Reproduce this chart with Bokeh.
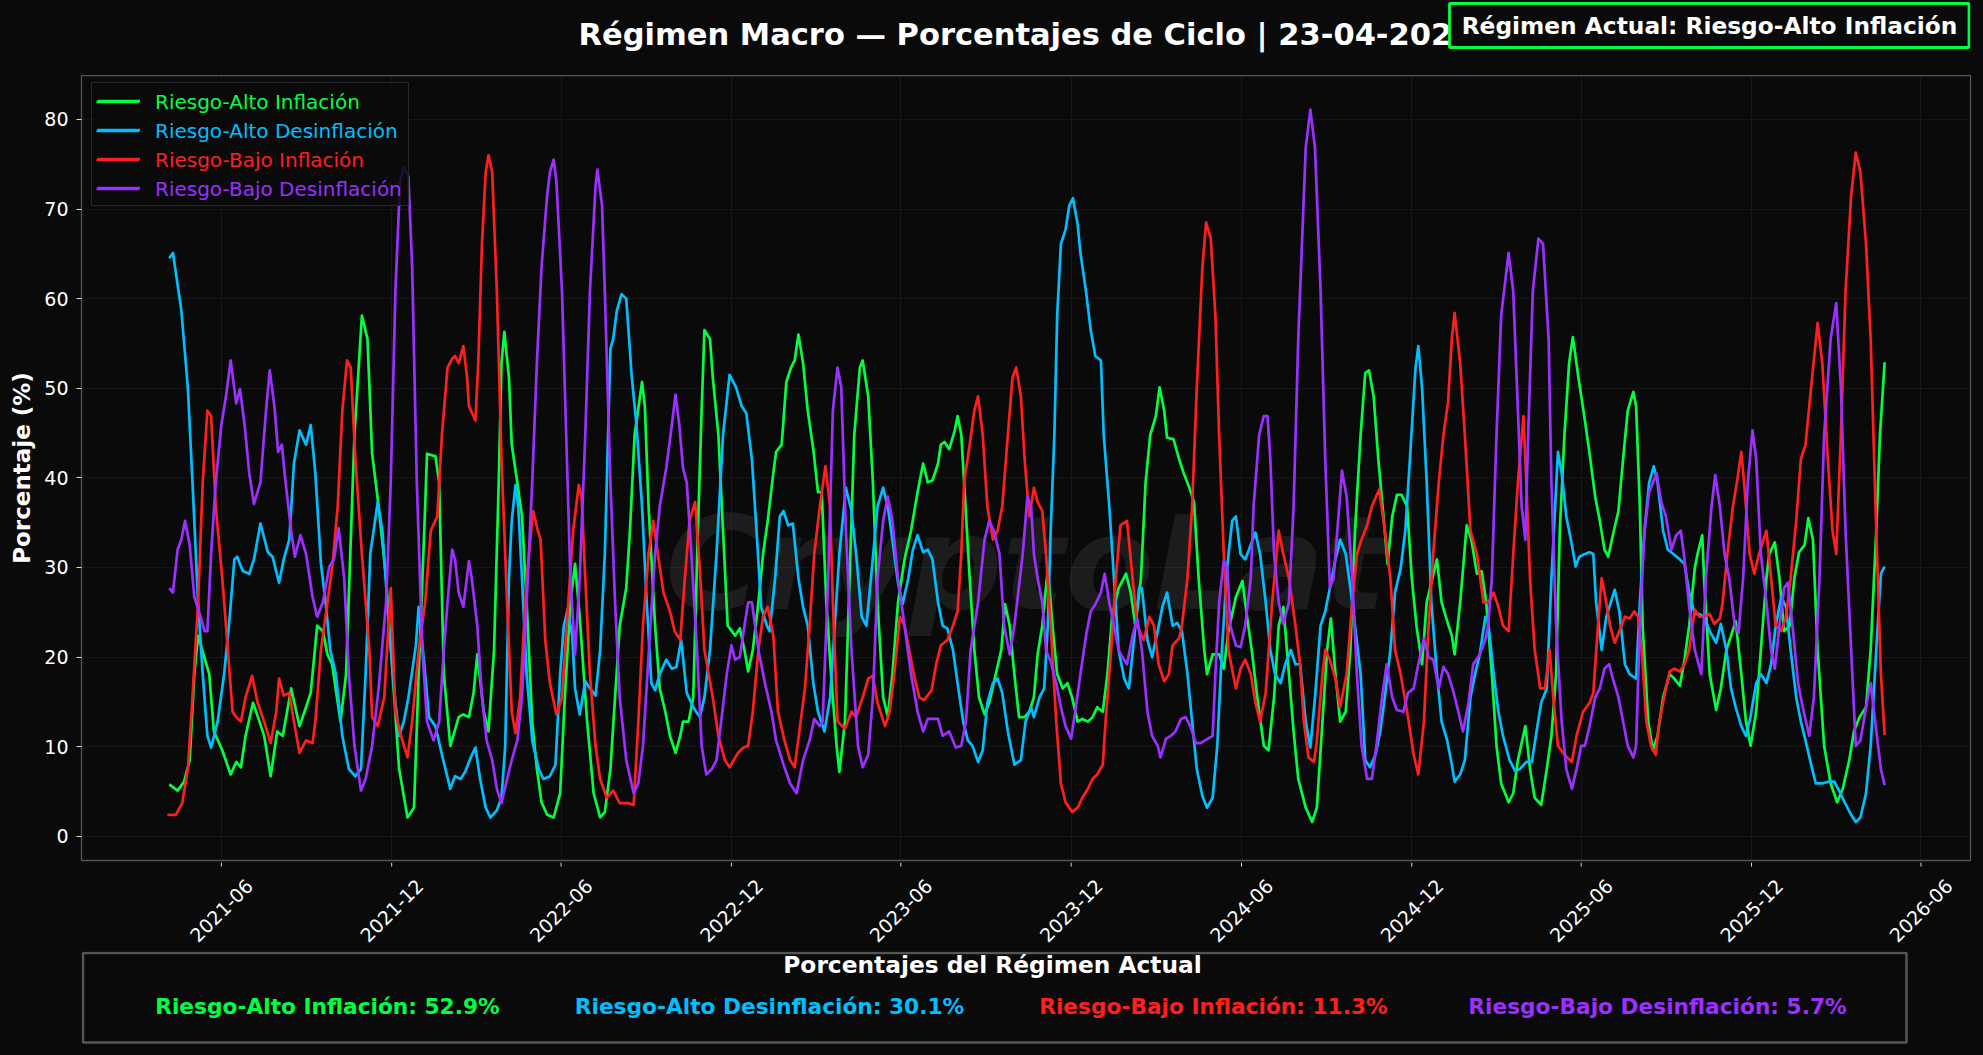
import math
import numpy as np
import pandas as pd
from bokeh.plotting import figure
from bokeh.layouts import column
from bokeh.models import Range1d, FixedTicker, Legend, LegendItem
from bokeh.core.properties import value
from bokeh.embed import file_html
from bokeh.resources import INLINE

# ---------------- data ----------------
DAY0 = "2021-04-01"  # day offsets below are counted from this date

NAMES = ["Riesgo-Alto Inflación", "Riesgo-Alto Desinflación",
         "Riesgo-Bajo Inflación", "Riesgo-Bajo Desinflación"]
COLORS = ["#00ff41", "#00bfff", "#ff1f1f", "#9b30ff"]

RAI = [(5,5.8),(14,5.1),(21,6.1),(27,8.5),(32,18.1),(36,22.4),(48,18.1),(53,11.7),(62,9.6),(71,6.9),(77,8.3),(82,7.7),(87,11.2),(95,14.9),(102,12.8),(107,11.2),(114,6.7),(121,11.7),(127,11.2),(136,16.5),(145,12.3),(152,14.4),(157,16.0),(164,23.5),(170,22.9),(175,20.3),(180,19.2),(189,12.8),(195,18.1),(204,44.8),(212,58.1),(218,55.5),(223,42.7),(230,36.8),(238,28.8),(245,18.1),(252,7.5),(261,2.1),(268,3.2),(273,18.1),(279,34.1),(282,42.7),(291,42.4),(295,39.5),(300,18.1),(307,10.1),(316,13.3),(321,13.6),(327,13.3),(332,16.0),(336,20.3),(343,13.9),(348,11.7),(354,20.8),(359,39.5),(362,52.8),(365,56.3),(370,51.2),(373,43.7),(379,39.5),(384,35.7),(389,26.1),(395,12.8),(400,7.5),(405,3.8),(411,2.4),(418,2.1),(425,4.8),(430,15.5),(436,26.1),(441,30.4),(446,24.5),(454,12.8),(461,4.8),(468,2.1),(473,2.7),(479,7.5),(484,15.5),(489,23.5),(496,27.7),(500,34.1),(505,44.8),(513,50.7),(516,48.0),(520,36.8),(527,23.5),(532,16.5),(538,13.9),(543,11.2),(549,9.3),(554,11.2),(557,12.8),(563,12.8),(568,15.5),(573,34.1),(577,47.5),(580,56.5),(586,55.5),(589,51.2),(595,44.8),(600,34.1),(605,23.5),(613,22.4),(618,23.2),(623,20.8),(627,18.4),(632,20.8),(638,26.1),(643,31.5),(648,35.2),(654,40.5),(657,42.9),(663,43.7),(668,50.7),(673,52.3),(677,53.1),(681,56.0),(686,52.8),(691,47.5),(697,43.2),(702,38.4),(706,38.4),(711,26.1),(716,18.1),(722,10.1),(725,7.2),(731,12.8),(736,28.8),(741,44.8),(747,52.3),(750,53.1),(756,49.1),(761,39.5),(766,26.1),(772,15.5),(777,13.4),(782,18.1),(788,26.1),(795,30.9),(802,34.1),(809,38.4),(815,41.6),(820,39.5),(825,39.7),(831,41.6),(834,43.7),(838,44.0),(843,43.2),(849,45.3),(852,46.9),(856,44.8),(859,39.5),(865,28.8),(870,20.8),(875,15.5),(881,13.6),(886,14.9),(893,18.1),(899,20.8),(903,25.9),(908,23.5),(913,18.1),(918,13.3),(924,13.3),(929,13.9),(934,15.5),(938,20.3),(943,23.5),(949,29.9),(954,23.5),(959,18.1),(965,16.5),(970,17.1),(975,15.5),(981,12.8),(986,13.1),(992,12.8),(997,13.3),(1002,14.4),(1008,13.9),(1013,18.1),(1018,24.5),(1025,27.7),(1033,29.3),(1038,27.2),(1043,23.5),(1049,28.8),(1054,39.5),(1059,44.8),(1065,46.9),(1069,50.1),(1074,47.5),(1077,44.5),(1084,44.3),(1090,42.1),(1095,40.5),(1101,38.9),(1106,37.3),(1111,28.8),(1117,20.8),(1120,18.1),(1126,20.3),(1133,20.3),(1138,18.7),(1143,22.9),(1151,26.7),(1158,28.5),(1163,24.5),(1168,20.8),(1174,15.5),(1181,10.1),(1186,9.6),(1192,15.5),(1197,23.5),(1202,25.6),(1208,18.1),(1213,11.7),(1218,6.4),(1226,3.2),(1233,1.6),(1238,3.2),(1244,12.8),(1249,20.8),(1253,24.3),(1258,18.1),(1263,12.8),(1269,13.9),(1274,20.8),(1279,34.1),(1285,44.8),(1290,51.7),(1294,52.0),(1299,49.1),(1304,42.1),(1310,35.2),(1314,30.4),(1319,35.7),(1324,38.1),(1329,38.1),(1335,36.8),(1340,28.8),(1345,23.5),(1351,19.2),(1356,26.1),(1361,28.3),(1367,30.9),(1372,26.1),(1378,24.0),(1383,22.4),(1386,20.3),(1392,26.1),(1399,34.7),(1404,33.1),(1410,29.3),(1415,29.6),(1420,26.1),(1426,18.1),(1431,10.1),(1436,5.9),(1444,3.8),(1449,4.8),(1454,8.5),(1462,12.3),(1467,7.5),(1472,4.3),(1479,3.5),(1485,7.5),(1490,11.2),(1495,18.1),(1499,34.1),(1504,44.8),(1509,52.8),(1513,55.7),(1519,51.2),(1526,46.4),(1531,42.7),(1537,37.9),(1542,35.2),(1547,32.0),(1551,31.2),(1556,33.6),(1562,36.3),(1567,42.1),(1572,47.5),(1578,49.6),(1581,48.0),(1585,36.8),(1588,23.5),(1594,12.8),(1599,9.6),(1604,11.2),(1610,15.5),(1617,18.1),(1622,17.6),(1628,16.8),(1633,19.7),(1638,23.5),(1644,29.9),(1647,31.5),(1652,33.6),(1654,28.8),(1660,18.1),(1667,14.1),(1672,16.5),(1678,20.8),(1683,22.4),(1688,24.0),(1694,18.1),(1699,12.8),(1704,10.1),(1710,13.9),(1715,20.8),(1721,28.8),(1724,31.5),(1730,32.8),(1735,28.8),(1740,22.9),(1746,23.5),(1751,28.8),(1756,31.7),(1762,32.5),(1766,35.5),(1771,33.1),(1776,20.8),(1783,10.1),(1790,5.9),(1797,3.8),(1803,5.3),(1810,8.5),(1815,11.7),(1821,13.3),(1828,14.4),(1833,20.8),(1839,34.1),(1843,44.8),(1848,52.9)]

RAD = [(5,64.5),(9,65.1),(18,58.7),(25,50.1),(30,39.5),(36,26.1),(41,18.1),(46,11.2),(50,9.9),(57,12.8),(64,18.1),(70,24.5),(75,30.9),(78,31.2),(84,29.6),(91,29.3),(96,30.9),(103,34.9),(111,31.7),(116,31.2),(123,28.3),(128,30.9),(134,33.1),(139,41.6),(145,45.3),(152,43.7),(157,45.9),(162,40.5),(168,30.4),(173,26.1),(178,20.8),(184,18.1),(191,11.2),(198,7.5),(205,6.7),(211,7.5),(216,18.1),(221,31.5),(229,37.3),(234,34.1),(241,23.5),(248,14.9),(252,11.2),(257,12.8),(262,15.5),(270,21.3),(273,25.6),(279,19.2),(284,13.3),(291,12.3),(298,9.1),(307,5.3),(312,6.7),(318,6.4),(323,7.2),(329,8.8),(334,9.9),(339,6.4),(345,3.2),(350,2.1),(357,2.9),(362,4.3),(366,10.1),(370,28.8),(373,35.2),(377,39.2),(380,36.8),(384,28.8),(389,18.1),(395,10.7),(402,7.5),(407,6.4),(414,6.7),(420,8.0),(425,18.1),(429,23.5),(433,25.3),(438,22.4),(441,16.5),(446,13.6),(452,17.3),(457,16.5),(463,15.7),(468,20.8),(473,31.5),(479,54.4),(482,55.5),(486,58.7),(491,60.5),(496,60.0),(502,51.2),(507,45.9),(513,36.8),(518,26.1),(523,17.1),(527,16.3),(532,18.1),(539,19.7),(545,18.7),(550,18.9),(555,21.9),(561,16.0),(568,14.4),(575,13.3),(580,15.5),(586,20.8),(593,31.5),(600,44.8),(607,51.5),(614,50.1),(620,48.0),(625,47.2),(631,42.1),(636,34.1),(641,25.6),(647,23.5),(650,22.9),(656,28.8),(661,35.7),(665,36.3),(670,34.7),(675,34.9),(681,28.8),(686,25.6),(691,23.5),(697,17.1),(702,13.9),(709,11.7),(715,15.5),(720,23.5),(725,31.5),(732,38.9),(738,36.3),(743,31.5),(749,24.5),(754,23.5),(759,28.8),(766,36.8),(772,38.9),(777,36.8),(782,33.1),(788,28.3),(793,25.9),(799,28.8),(804,32.0),(809,33.6),(815,31.7),(820,32.0),(825,30.9),(831,26.1),(836,23.5),(841,23.2),(847,20.8),(852,17.1),(858,12.8),(863,10.7),(868,10.1),(874,8.3),(879,9.6),(884,14.9),(890,17.1),(895,17.6),(900,16.0),(906,11.7),(913,8.0),(920,8.5),(925,12.8),(931,14.4),(934,13.3),(940,15.5),(945,16.5),(949,23.5),(952,34.1),(956,44.8),(959,58.1),(963,66.1),(968,67.7),(972,70.4),(976,71.2),(981,68.3),(984,65.1),(990,60.8),(995,56.5),(1000,53.6),(1006,53.1),(1009,44.8),(1015,36.8),(1020,28.8),(1025,20.8),(1031,17.6),(1036,16.5),(1042,22.4),(1047,27.7),(1050,27.7),(1056,21.9),(1061,20.0),(1067,22.9),(1072,25.6),(1077,27.2),(1083,23.5),(1088,23.8),(1093,22.9),(1099,18.1),(1104,12.8),(1109,7.5),(1115,4.5),(1120,3.2),(1126,4.3),(1131,10.1),(1136,20.8),(1142,30.4),(1147,35.2),(1151,35.7),(1156,31.5),(1161,30.9),(1167,32.5),(1172,33.9),(1177,31.5),(1183,26.1),(1188,20.8),(1193,18.1),(1199,17.1),(1204,19.2),(1210,20.8),(1215,19.2),(1220,19.2),(1226,12.8),(1231,9.9),(1236,15.5),(1242,23.5),(1247,25.1),(1252,27.7),(1258,30.9),(1263,33.1),(1269,31.5),(1274,27.7),(1279,23.5),(1285,18.1),(1290,8.5),(1295,7.7),(1301,9.1),(1306,11.7),(1311,15.5),(1317,20.8),(1322,27.2),(1328,29.9),(1333,34.1),(1338,42.1),(1344,52.3),(1347,54.7),(1351,50.1),(1356,39.5),(1361,26.1),(1367,18.1),(1372,12.8),(1378,10.7),(1383,8.0),(1386,6.1),(1392,6.9),(1397,8.5),(1403,15.5),(1408,18.1),(1413,20.3),(1419,24.5),(1422,24.0),(1428,18.1),(1433,13.9),(1438,11.2),(1445,8.5),(1451,7.3),(1456,7.5),(1463,8.3),(1469,8.3),(1474,11.7),(1479,14.9),(1485,16.5),(1490,28.8),(1494,36.8),(1497,42.9),(1501,40.5),(1506,35.7),(1512,32.5),(1516,30.1),(1520,31.2),(1526,31.5),(1531,31.7),(1535,31.5),(1538,26.1),(1544,20.8),(1549,24.5),(1558,27.5),(1563,25.1),(1569,19.2),(1574,18.1),(1581,17.6),(1585,26.1),(1590,34.1),(1595,39.5),(1600,41.3),(1604,39.5),(1610,34.1),(1615,32.0),(1621,31.5),(1628,30.9),(1633,30.4),(1638,27.2),(1644,24.8),(1649,24.8),(1654,24.5),(1660,22.9),(1667,21.6),(1672,23.7),(1678,20.8),(1683,16.5),(1688,14.4),(1694,12.3),(1699,11.2),(1704,13.4),(1710,17.1),(1715,18.1),(1721,17.1),(1726,19.2),(1731,23.5),(1737,26.7),(1742,25.6),(1747,20.8),(1753,15.5),(1758,12.8),(1763,10.7),(1769,8.0),(1774,5.9),(1781,5.9),(1788,6.1),(1794,6.1),(1799,5.1),(1805,3.8),(1812,2.4),(1817,1.6),(1822,2.1),(1828,4.8),(1833,10.1),(1839,20.8),(1844,29.3),(1848,30.1)]

RBI = [(3,2.4),(12,2.4),(19,3.7),(25,7.5),(30,15.5),(36,26.1),(41,39.5),(46,47.5),(50,46.9),(55,36.8),(62,28.8),(68,20.8),(73,13.9),(77,13.3),(82,12.8),(87,15.5),(94,17.9),(100,14.9),(107,12.8),(114,10.4),(120,13.9),(123,17.6),(128,15.7),(134,16.0),(139,12.8),(145,9.3),(152,10.7),(159,10.4),(162,12.8),(168,20.8),(175,26.1),(180,29.9),(186,36.8),(191,47.5),(196,53.1),(200,52.3),(205,42.1),(212,31.5),(220,20.8),(223,13.3),(229,12.3),(236,15.5),(243,27.7),(248,13.9),(254,11.2),(261,8.8),(266,12.8),(273,20.8),(280,26.1),(286,34.1),(293,35.7),(298,44.8),(304,52.3),(309,53.3),(312,53.6),(316,52.8),(321,54.7),(325,51.2),(327,48.0),(334,46.4),(337,52.8),(341,66.1),(345,74.1),(348,76.0),(352,74.1),(357,60.8),(362,42.1),(368,26.1),(373,13.9),(377,11.5),(382,15.5),(389,28.8),(396,36.3),(401,34.1),(404,33.1),(409,21.9),(414,17.1),(421,13.6),(427,15.5),(432,23.5),(439,34.1),(445,39.2),(448,37.9),(452,28.8),(457,18.1),(463,10.1),(468,6.4),(475,4.3),(482,5.1),(489,3.7),(498,3.7),(504,3.5),(509,12.8),(514,23.5),(520,31.5),(525,35.2),(530,31.5),(536,27.2),(543,25.1),(548,22.9),(554,21.9),(559,28.8),(564,35.2),(570,37.3),(575,29.9),(580,20.8),(589,15.5),(595,11.2),(602,8.5),(607,7.7),(616,9.3),(622,9.9),(627,10.1),(632,13.9),(638,20.8),(643,24.5),(648,25.6),(654,22.4),(659,13.9),(666,10.7),(672,8.5),(677,7.7),(682,11.7),(688,16.5),(693,23.5),(698,31.5),(704,36.8),(710,41.3),(715,36.8),(718,26.1),(723,12.8),(731,12.0),(738,13.9),(743,13.3),(750,15.5),(756,17.6),(761,17.9),(766,14.9),(774,12.3),(779,13.9),(784,18.1),(790,24.5),(795,23.5),(800,20.8),(806,17.6),(811,15.5),(816,15.2),(824,16.3),(829,19.2),(834,21.3),(841,21.9),(847,23.5),(852,25.1),(856,31.5),(859,39.5),(865,43.7),(870,47.5),(874,49.1),(879,44.8),(884,36.8),(890,33.1),(895,34.1),(900,36.8),(906,44.8),(911,51.2),(915,52.3),(920,49.1),(924,42.1),(929,35.7),(934,38.9),(938,37.3),(943,36.3),(947,31.5),(952,23.5),(958,12.8),(963,5.9),(968,3.8),(975,2.7),(981,3.2),(986,4.3),(992,5.3),(997,6.4),(1002,6.9),(1008,8.0),(1011,12.8),(1017,20.8),(1022,28.8),(1027,34.7),(1034,35.2),(1040,28.8),(1045,23.5),(1052,21.9),(1058,24.5),(1063,23.5),(1068,19.2),(1074,17.3),(1079,18.1),(1083,21.3),(1090,22.1),(1093,23.5),(1099,28.8),(1104,36.8),(1109,50.1),(1115,63.5),(1119,68.5),(1124,66.7),(1129,58.1),(1133,44.8),(1138,31.5),(1143,20.8),(1151,16.5),(1156,18.7),(1161,19.7),(1167,18.1),(1172,14.9),(1177,12.8),(1183,16.0),(1190,26.1),(1197,34.1),(1202,31.5),(1208,28.8),(1215,23.5),(1220,19.2),(1224,12.8),(1229,8.8),(1235,8.3),(1238,10.7),(1244,18.1),(1247,20.8),(1252,19.7),(1258,17.6),(1263,14.4),(1270,18.1),(1276,26.1),(1281,31.5),(1286,33.1),(1292,34.7),(1297,36.8),(1305,38.7),(1311,34.1),(1317,28.8),(1322,20.8),(1328,18.1),(1335,13.9),(1342,9.1),(1347,6.9),(1353,12.8),(1358,23.5),(1363,31.5),(1369,39.5),(1374,44.8),(1379,48.5),(1383,55.5),(1386,58.4),(1392,52.8),(1397,44.8),(1403,34.1),(1410,31.5),(1417,26.1),(1422,26.1),(1428,27.2),(1433,25.6),(1438,23.5),(1444,22.9),(1449,31.5),(1454,39.5),(1460,46.9),(1463,39.5),(1467,28.8),(1472,20.8),(1478,16.5),(1483,16.5),(1488,20.8),(1492,15.5),(1497,10.1),(1504,9.1),(1512,8.3),(1517,11.2),(1524,13.9),(1531,14.9),(1535,16.0),(1540,23.5),(1544,28.8),(1547,27.2),(1553,23.5),(1558,21.6),(1563,22.9),(1569,24.5),(1574,24.3),(1579,25.1),(1583,24.5),(1587,20.8),(1592,12.8),(1597,10.1),(1602,9.1),(1606,12.8),(1612,16.0),(1617,18.4),(1622,18.7),(1628,18.4),(1633,19.2),(1638,20.8),(1644,25.3),(1649,24.5),(1654,24.5),(1660,24.8),(1665,23.7),(1671,24.3),(1674,26.1),(1679,31.5),(1685,36.8),(1690,40.0),(1694,42.9),(1697,39.5),(1703,31.5),(1708,29.3),(1713,31.5),(1721,34.1),(1726,28.8),(1731,23.5),(1737,22.9),(1742,24.5),(1747,28.8),(1753,35.2),(1758,42.1),(1763,43.7),(1769,50.1),(1776,57.3),(1781,52.8),(1787,42.1),(1792,34.1),(1796,31.5),(1801,44.8),(1806,60.8),(1812,71.5),(1817,76.3),(1822,74.1),(1828,66.1),(1833,55.5),(1839,34.1),(1844,18.1),(1848,11.3)]

RBD = [(5,27.7),(9,27.2),(14,32.0),(18,33.1),(22,35.2),(27,32.5),(32,26.7),(37,25.1),(43,22.9),(46,22.9),(50,31.5),(55,39.5),(61,45.9),(66,49.1),(71,53.1),(77,48.3),(81,49.9),(86,45.9),(91,40.5),(96,37.1),(103,39.5),(109,47.5),(113,52.0),(118,48.0),(122,42.9),(126,43.7),(130,39.5),(136,34.1),(140,31.2),(146,33.6),(152,31.5),(159,26.7),(164,24.5),(170,26.1),(177,30.1),(182,30.9),(187,34.4),(193,28.8),(198,18.1),(204,10.1),(211,5.1),(216,6.4),(223,10.1),(230,16.5),(238,26.1),(243,39.5),(248,60.8),(253,73.1),(257,74.7),(262,73.6),(266,63.5),(271,39.5),(277,20.8),(282,12.8),(289,10.7),(295,12.8),(300,20.8),(304,26.1),(309,32.0),(312,30.9),(316,27.2),(321,25.6),(327,30.7),(330,28.8),(336,23.5),(341,15.5),(346,10.7),(352,8.5),(357,5.3),(362,3.7),(368,6.4),(373,8.5),(379,10.7),(384,15.5),(389,26.1),(395,39.5),(400,52.8),(405,63.5),(411,71.5),(414,74.1),(418,75.5),(421,73.1),(427,60.8),(430,50.1),(436,28.8),(441,20.3),(446,28.8),(452,44.8),(457,60.8),(463,72.5),(465,74.4),(470,70.4),(473,60.8),(479,39.5),(484,26.1),(489,15.5),(496,8.5),(504,4.8),(509,5.9),(514,10.1),(522,23.5),(527,31.5),(532,36.8),(539,41.1),(545,45.9),(549,49.3),(553,45.9),(557,41.1),(561,39.5),(566,31.5),(572,20.8),(577,10.1),(582,6.9),(588,7.5),(593,8.5),(598,12.8),(604,18.1),(609,21.3),(613,19.7),(618,20.0),(623,23.5),(627,26.1),(631,26.1),(638,20.8),(645,17.1),(652,13.9),(657,10.7),(665,8.0),(672,5.9),(679,4.8),(686,8.5),(693,10.7),(698,13.1),(704,12.3),(707,12.8),(713,28.8),(718,47.5),(723,52.3),(727,50.1),(732,34.1),(738,20.8),(745,10.1),(750,7.7),(756,9.1),(761,15.5),(766,28.8),(772,35.2),(777,37.9),(782,35.2),(788,28.8),(795,23.5),(802,18.1),(809,13.9),(815,11.7),(820,13.1),(825,13.1),(831,13.1),(836,11.2),(843,11.7),(850,9.9),(856,10.1),(861,12.8),(866,20.8),(874,26.1),(881,33.1),(886,35.2),(891,34.1),(897,31.5),(902,23.5),(908,20.3),(913,23.5),(922,31.5),(927,37.9),(931,36.8),(934,31.5),(938,28.8),(943,26.1),(947,20.8),(952,19.5),(958,17.1),(963,14.4),(968,12.3),(974,10.9),(979,14.4),(984,18.1),(990,22.4),(995,25.1),(1000,25.9),(1006,27.2),(1010,29.3),(1015,26.1),(1020,23.5),(1025,20.8),(1029,20.0),(1034,19.2),(1040,22.4),(1045,24.3),(1050,20.8),(1056,13.9),(1061,11.2),(1067,10.1),(1070,8.8),(1076,10.9),(1081,11.2),(1086,11.7),(1092,13.1),(1097,13.3),(1102,12.3),(1108,10.4),(1113,10.4),(1118,10.7),(1126,11.2),(1129,18.1),(1133,26.1),(1138,30.7),(1142,29.9),(1145,23.5),(1151,21.3),(1156,21.1),(1161,23.5),(1167,28.8),(1170,36.8),(1176,44.8),(1181,46.9),(1185,46.9),(1188,42.1),(1192,31.5),(1197,26.1),(1202,23.7),(1208,26.1),(1213,36.8),(1218,55.5),(1226,76.8),(1231,81.1),(1236,76.8),(1242,60.8),(1247,42.1),(1252,27.7),(1256,28.8),(1260,34.1),(1265,40.8),(1270,37.9),(1276,28.8),(1281,18.1),(1286,10.1),(1292,6.4),(1297,6.4),(1302,10.1),(1308,15.5),(1313,19.2),(1319,15.5),(1324,14.1),(1331,13.9),(1336,16.0),(1342,16.5),(1347,19.2),(1353,22.1),(1358,20.0),(1363,19.7),(1369,16.5),(1374,18.9),(1379,18.1),(1385,16.0),(1390,13.9),(1395,11.7),(1401,15.0),(1406,19.2),(1413,20.3),(1419,21.9),(1422,23.5),(1426,28.8),(1431,44.8),(1436,58.1),(1444,65.1),(1449,60.8),(1454,47.5),(1458,36.8),(1462,33.1),(1465,44.8),(1470,60.8),(1476,66.7),(1481,66.1),(1487,55.5),(1490,39.5),(1495,23.5),(1501,12.8),(1506,7.5),(1512,5.3),(1517,7.5),(1522,10.1),(1526,10.1),(1531,12.3),(1537,15.5),(1542,16.5),(1547,18.7),(1552,19.2),(1556,17.6),(1562,15.5),(1567,12.8),(1572,10.1),(1578,8.8),(1581,10.1),(1585,23.5),(1590,34.1),(1595,38.4),(1603,40.5),(1608,37.3),(1613,35.7),(1619,32.0),(1624,33.6),(1629,34.1),(1633,30.9),(1638,25.6),(1644,20.8),(1651,18.1),(1656,28.8),(1662,36.8),(1666,40.3),(1671,36.8),(1676,31.5),(1681,28.8),(1687,23.5),(1691,22.7),(1696,28.8),(1701,39.5),(1706,45.3),(1710,42.1),(1715,31.5),(1721,26.1),(1726,20.8),(1730,18.7),(1735,23.5),(1740,27.7),(1744,28.3),(1749,23.5),(1755,17.1),(1760,14.4),(1767,11.2),(1772,15.5),(1778,28.8),(1783,44.8),(1790,55.5),(1796,59.5),(1801,50.1),(1806,34.1),(1812,20.8),(1817,10.1),(1822,10.7),(1828,14.4),(1833,17.1),(1839,11.8),(1844,7.5),(1848,5.7)]

SERIES = [RAI, RAD, RBI, RBD]

Y_TICKS = [0, 10, 20, 30, 40, 50, 60, 70, 80]
X_TICK_LABELS = ["2021-06", "2021-12", "2022-06", "2022-12", "2023-06", "2023-12",
                 "2024-06", "2024-12", "2025-06", "2025-12", "2026-06"]

TITLE = "Régimen Macro — Porcentajes de Ciclo | 23-04-2026"
BADGE = "Régimen Actual: Riesgo-Alto Inflación"
FOOT_TITLE = "Porcentajes del Régimen Actual"
WATERMARK = "CryptoLat"

# ---------------- styling / layout ----------------
BG = "#0a0a0a"
FONT = "DejaVu Sans"
FV = value(FONT)
W = 1983
H_HEAD, H_MAIN, H_STRIP, H_FOOT = 75, 787, 89, 104
B_LEFT, B_RIGHT, B_BOTTOM = 81, 13, 2
FX0, FX1 = B_LEFT, W - B_RIGHT          # horizontal frame span shared by all panels

day0 = pd.Timestamp(DAY0)


def to_dates(days):
    return (day0 + pd.to_timedelta(np.asarray(days, dtype=float), unit="D")).to_numpy()


all_days = [d for s in SERIES for d, _ in s]
dmin, dmax = min(all_days), max(all_days)
pad = 0.05 * (dmax - dmin)
x_start = day0 + pd.Timedelta(days=dmin - pad)
x_end = day0 + pd.Timedelta(days=dmax + pad)
x_range = Range1d(start=x_start.to_pydatetime(), end=x_end.to_pydatetime())


def panel(height, **kw):
    f = figure(width=W, height=height, toolbar_location=None, output_backend="svg",
               x_axis_location=None, y_axis_location=None,
               min_border_left=B_LEFT, min_border_right=B_RIGHT,
               min_border_top=0, min_border_bottom=0, **kw)
    f.grid.visible = False
    f.outline_line_color = None
    f.background_fill_color = BG
    f.border_fill_color = BG
    return f


# ---------- header (x in page pixels) ----------
ph = panel(H_HEAD, x_range=Range1d(FX0, FX1), y_range=Range1d(H_HEAD, 0))
ph.text(x=[(FX0 + FX1) / 2], y=[34], text=[TITLE], text_font=FV, text_font_style="bold",
        text_font_size="30.5px", text_color="#ffffff", text_align="center", text_baseline="middle")
ph.quad(left=[1449], right=[1968.5], top=[3], bottom=[47], fill_color=BG,
        line_color="#00ff41", line_width=2.8)
ph.text(x=[1709], y=[25], text=[BADGE], text_font=FV, text_font_style="bold",
        text_font_size="23.3px", text_color="#ffffff", text_align="center", text_baseline="middle")

# ---------- main ----------
p = figure(width=W, height=H_MAIN, x_axis_type="datetime", x_range=x_range,
           y_range=Range1d(-2.7, 84.9), toolbar_location=None, output_backend="svg",
           x_axis_location=None,
           min_border_left=B_LEFT, min_border_right=B_RIGHT, min_border_top=0,
           min_border_bottom=B_BOTTOM)
p.background_fill_color = BG
p.border_fill_color = BG
p.outline_line_color = "#555555"
p.outline_line_width = 1.3

x_mid = x_start + (x_end - x_start) / 2
p.text(x=[x_mid.to_datetime64()], y=[30.4], text=[WATERMARK], text_font=FV,
       text_font_style="bold italic", text_font_size="130px", text_color="#ffffff",
       text_alpha=0.075, text_align="center", text_baseline="alphabetic")

renderers = []
for s, c in zip(SERIES, COLORS):
    days = [d for d, _ in s]
    vals = [v for _, v in s]
    r = p.line(x=to_dates(days), y=vals, line_color=c, line_width=2.7, line_join="round")
    renderers.append(r)

tick_dates = pd.to_datetime([t + "-01" for t in X_TICK_LABELS])
tick_ms = [float(t.value) / 1e6 for t in tick_dates]

p.xgrid.ticker = FixedTicker(ticks=tick_ms)
p.yaxis.ticker = FixedTicker(ticks=Y_TICKS)
p.ygrid.ticker = FixedTicker(ticks=Y_TICKS)
p.grid.grid_line_color = "#ffffff"
p.grid.grid_line_alpha = 0.05
p.grid.grid_line_width = 1

p.yaxis.axis_line_color = "#555555"
p.yaxis.major_tick_line_color = "#dddddd"
p.yaxis.major_tick_out = 5
p.yaxis.major_tick_in = 0
p.yaxis.minor_tick_line_color = None
p.yaxis.major_label_text_font = FONT
p.yaxis.major_label_text_font_size = "19px"
p.yaxis.major_label_text_color = "#ffffff"
p.yaxis.major_label_standoff = 8
p.yaxis.axis_label = "Porcentaje (%)"
p.yaxis.axis_label_text_font = FONT
p.yaxis.axis_label_text_font_size = "23px"
p.yaxis.axis_label_text_font_style = "bold"
p.yaxis.axis_label_text_color = "#ffffff"
p.yaxis.axis_label_standoff = 6

# legend: a framed legend (text hidden) plus one coloured-text legend per entry
LH, SP, PD = 25, 4, 5
n = len(NAMES)
H_LEG = 2 * PD + n * LH + (n - 1) * SP
frame_h = H_MAIN - B_BOTTOM
leg_top = frame_h - 9
common = dict(padding=PD, spacing=SP, margin=0, label_height=LH, glyph_height=LH,
              glyph_width=43, label_standoff=16, label_text_font=FONT,
              label_text_font_size="20px")
leg0 = Legend(items=[LegendItem(label=nm, renderers=[r]) for nm, r in zip(NAMES, renderers)],
              location=(10, leg_top - H_LEG), label_text_alpha=0.0,
              background_fill_color=BG, background_fill_alpha=0.85,
              border_line_color="#444444", border_line_width=1.5, **common)
p.add_layout(leg0)
for i, (nm, r, c) in enumerate(zip(NAMES, renderers, COLORS)):
    lg = Legend(items=[LegendItem(label=nm, renderers=[r])],
                location=(10, leg_top - i * (LH + SP) - (2 * PD + LH)),
                label_text_color=c, background_fill_alpha=0.0, border_line_alpha=0.0, **common)
    p.add_layout(lg)

# ---------- x tick marks + labels strip ----------
ps = panel(H_STRIP, x_axis_type="datetime", x_range=x_range, y_range=Range1d(0, H_STRIP))
nt = len(X_TICK_LABELS)
ps.segment(x0=tick_dates.to_numpy(), y0=[H_STRIP] * nt, x1=tick_dates.to_numpy(),
           y1=[H_STRIP - 4] * nt, line_color="#dddddd", line_width=1)
ps.text(x=tick_dates.to_numpy(), y=[H_STRIP - 48] * nt, text=X_TICK_LABELS,
        angle=math.pi / 4, text_font=FV, text_font_size="19px", text_color="#ffffff",
        text_align="center", text_baseline="middle")

# ---------- footer (x in page pixels) ----------
pf = panel(H_FOOT, x_range=Range1d(FX0, FX1), y_range=Range1d(H_FOOT, 0))
pf.quad(left=[82.5], right=[1906], top=[1.5], bottom=[91], fill_color=BG,
        line_color="#555555", line_width=2.5)
pf.text(x=[992], y=[12.5], text=[FOOT_TITLE], text_font=FV, text_font_style="bold",
        text_font_size="23.3px", text_color="#ffffff", text_align="center", text_baseline="middle")
stat_text = [f"{nm}: {s[-1][1]:.1f}%" for nm, s in zip(NAMES, SERIES)]
pf.text(x=[327, 769, 1213, 1657], y=[55] * 4, text=stat_text, text_color=COLORS,
        text_font=FV, text_font_style="bold", text_font_size="21.7px",
        text_align="center", text_baseline="middle")

layout = column(ph, p, ps, pf, spacing=0, styles={"background-color": BG})

html = None
try:
    from bokeh.core.templates import get_env
    tpl = get_env().from_string(
        '{% extends "file.html" %}{% block preamble %}'
        '<style>html, body { background: #0a0a0a; }</style>{% endblock %}')
    html = file_html(layout, INLINE, template=tpl)
except Exception:
    html = None
if html is None:
    html = file_html(layout, INLINE)
open("out.html", "w").write(html)
